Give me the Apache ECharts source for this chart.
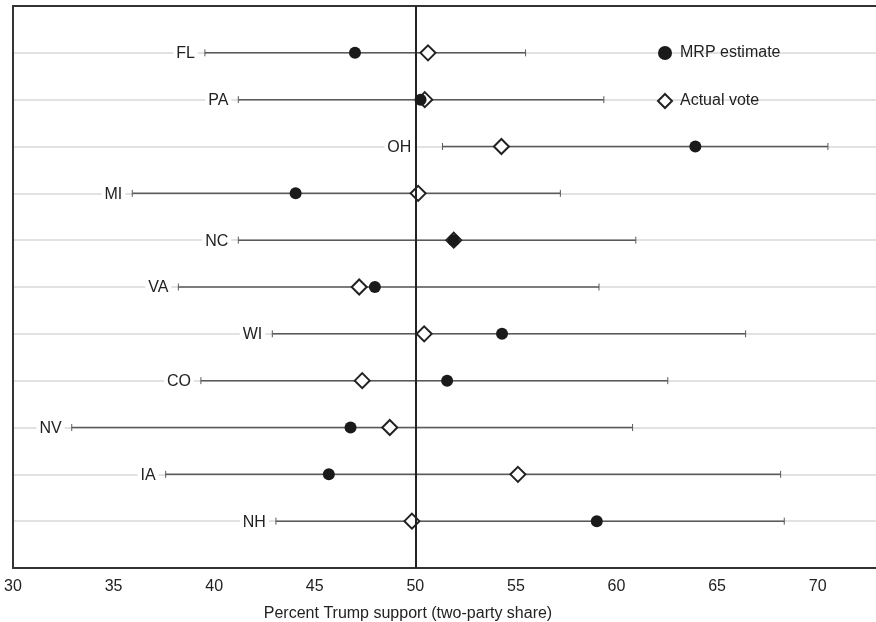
<!DOCTYPE html>
<html>
<head>
<meta charset="utf-8">
<script src="https://cdn.jsdelivr.net/npm/echarts@6/dist/echarts.min.js"></script>
<style>
html,body{margin:0;padding:0;background:#fff;}
#chart{width:876px;height:622px;}
</style>
</head>
<body>
<div id="chart"></div>
<script>
// ---- data ----
var states = ['FL','PA','OH','MI','NC','VA','WI','CO','NV','IA','NH'];
var mrpEstimate = [47.0, 50.26, 63.92, 44.05, 51.91, 47.99, 54.31, 51.58, 46.78, 45.70, 59.02];
var actualVote  = [50.63, 50.47, 54.28, 50.14, 51.91, 47.21, 50.44, 47.36, 48.73, 55.10, 49.83];
var lowerBound  = [39.54, 41.2, 51.35, 35.93, 41.2, 38.22, 42.89, 39.34, 32.92, 37.59, 43.07];
var upperBound  = [55.48, 59.37, 70.51, 57.21, 60.96, 59.13, 66.42, 62.55, 60.8, 68.16, 68.34];
var xTicks = [30, 35, 40, 45, 50, 55, 60, 65, 70];
var referenceLine = 50;

var FONT = '"Liberation Sans", Arial, Helvetica, sans-serif';
var chart = echarts.init(document.getElementById('chart'));

var barData = states.map(function (s, i) { return [lowerBound[i], upperBound[i], i + 1, s]; });

var option = {
  animation: false,
  backgroundColor: '#fff',
  grid: { left: 13, right: -2, top: 6, bottom: 54, containLabel: false, outerBoundsMode: 'none' },
  legend: {
    orient: 'vertical', left: 652, top: 40, itemWidth: 14, itemHeight: 14, itemGap: 32,
    textStyle: { fontFamily: FONT, fontSize: 16, color: '#222', padding: [0, 0, 0, 3] },
    data: [
      { name: 'MRP estimate', icon: 'circle', itemStyle: { color: '#1a1a1a', borderWidth: 0 } },
      { name: 'Actual vote', icon: 'diamond', itemStyle: { color: '#fff', borderColor: '#222', borderWidth: 2 } }
    ]
  },
  xAxis: [{
    type: 'value', min: 30, max: 73, interval: 5,
    axisLine: { show: true, onZero: false, lineStyle: { color: '#333', width: 2 } },
    axisTick: { show: false },
    splitLine: { show: false },
    axisLabel: {
      fontFamily: FONT, fontSize: 16, color: '#222', margin: 11, showMaxLabel: false,
      formatter: function (v) { return xTicks.indexOf(v) >= 0 ? String(v) : ''; }
    },
    name: 'Percent Trump support (two-party share)',
    nameLocation: 'middle', nameGap: 38,
    nameTextStyle: { fontFamily: FONT, fontSize: 16, color: '#222', padding: [0, 75, 0, 0] }
  }, {
    type: 'value', position: 'top', min: 30, max: 73, interval: 5,
    axisLine: { show: true, onZero: false, lineStyle: { color: '#333', width: 2 } },
    axisTick: { show: false }, axisLabel: { show: false }, splitLine: { show: false }
  }],
  yAxis: {
    type: 'value', min: 0, max: 12, interval: 1, inverse: true,
    axisLine: { show: true, onZero: false, lineStyle: { color: '#333', width: 2 } },
    axisTick: { show: false }, axisLabel: { show: false },
    splitLine: { show: true, lineStyle: { color: '#d9d9d9', width: 1.5 } }
  },
  series: [
    {
      type: 'custom', name: 'bars', data: barData, z: 2,
      encode: { x: [0, 1], y: 2 },
      renderItem: function (params, api) {
        var lo = api.coord([api.value(0), api.value(2)]);
        var hi = api.coord([api.value(1), api.value(2)]);
        var ref = api.coord([referenceLine, api.value(2)]);
        var y = lo[1];
        var labelRight = Math.min(lo[0] - 7, ref[0] - 1);
        var st = { stroke: '#5a5a5a', lineWidth: 1.5 };
        return {
          type: 'group',
          children: [
            { type: 'line', shape: { x1: lo[0], y1: y, x2: hi[0], y2: y }, style: st },
            { type: 'line', shape: { x1: lo[0], y1: y - 3.5, x2: lo[0], y2: y + 3.5 }, style: { stroke: '#5a5a5a', lineWidth: 1 } },
            { type: 'line', shape: { x1: hi[0], y1: y - 3.5, x2: hi[0], y2: y + 3.5 }, style: { stroke: '#5a5a5a', lineWidth: 1 } },
            { type: 'text', x: labelRight, y: y + 1,
              style: { text: api.value(3), fontFamily: FONT, fontSize: 16, fill: '#222',
                       align: 'right', verticalAlign: 'middle',
                       backgroundColor: '#fff', padding: [1, 3, 1, 3] } }
          ]
        };
      }
    },
    {
      type: 'scatter', name: 'ref', data: [], z: 3,
      markLine: {
        silent: true, symbol: 'none', label: { show: false },
        lineStyle: { color: '#222', width: 2, type: 'solid' },
        data: [{ xAxis: referenceLine }]
      }
    },
    {
      type: 'scatter', name: 'Actual vote', symbol: 'diamond', symbolSize: 15, z: 4,
      itemStyle: { color: '#fff', borderColor: '#222', borderWidth: 2, opacity: 1 },
      data: actualVote.map(function (v, i) { return [v, i + 1]; })
    },
    {
      type: 'scatter', name: 'MRP estimate', symbol: 'circle', symbolSize: 12, z: 5,
      itemStyle: { color: '#1a1a1a', opacity: 1 },
      data: mrpEstimate.map(function (v, i) { return [v, i + 1]; })
    }
  ]
};
chart.setOption(option);
</script>
</body>
</html>
